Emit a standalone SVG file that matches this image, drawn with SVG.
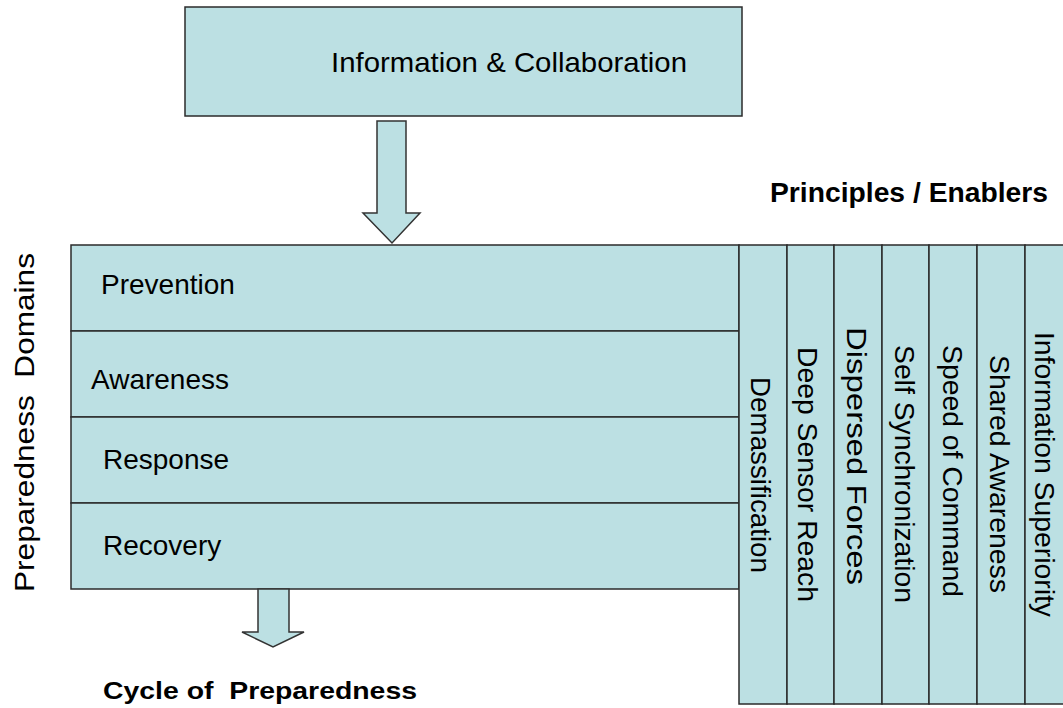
<svg xmlns="http://www.w3.org/2000/svg" width="1063" height="708" viewBox="0 0 1063 708">
<style>
.box{fill:#BCE0E3;stroke:#2b2b2b;stroke-width:1.5}
.col{fill:#BCE0E3;stroke:#2b2b2b;stroke-width:1.5}
.arrow{fill:#BCE0E3;stroke:#333;stroke-width:1.5;stroke-linejoin:miter}
.t{font-family:"Liberation Sans",Arial,sans-serif;font-size:28px;fill:#000}
.b{font-family:"Liberation Sans",Arial,sans-serif;font-weight:bold;fill:#000}
</style>
<rect width="1063" height="708" fill="#fff"/>
<g id="info-collab">
<rect class="box" x="185" y="7" width="557" height="109"/>
<text class="t" x="331" y="72" textLength="356" lengthAdjust="spacingAndGlyphs">Information &amp; Collaboration</text>
</g>
<g id="principles-label">
<text class="b" x="770" y="202" font-size="28" textLength="278" lengthAdjust="spacingAndGlyphs">Principles / Enablers</text>
</g>
<g id="domains-label">
<text class="t" xml:space="preserve" font-size="31" transform="translate(34,592) rotate(-90)" textLength="339" lengthAdjust="spacingAndGlyphs">Preparedness  Domains</text>
</g>
<g id="prevention">
<rect class="box" x="71" y="245" width="668" height="86"/>
<text class="t" x="101" y="294">Prevention</text>
</g>
<g id="awareness">
<rect class="box" x="71" y="331" width="668" height="86"/>
<text class="t" x="91" y="389">Awareness</text>
</g>
<g id="response">
<rect class="box" x="71" y="417" width="668" height="86"/>
<text class="t" x="103" y="469">Response</text>
</g>
<g id="recovery">
<rect class="box" x="71" y="503" width="668" height="86"/>
<text class="t" x="103" y="555">Recovery</text>
</g>
<g id="col-demassification">
<rect class="col" x="739" y="245" width="48" height="459"/>
<text class="t" transform="translate(751,377) rotate(90)" textLength="196" lengthAdjust="spacingAndGlyphs">Demassification</text>
</g>
<g id="col-deep-sensor-reach">
<rect class="col" x="787" y="245" width="47" height="459"/>
<text class="t" transform="translate(798,347) rotate(90)" textLength="255" lengthAdjust="spacingAndGlyphs">Deep Sensor Reach</text>
</g>
<g id="col-dispersed-forces">
<rect class="col" x="834" y="245" width="48" height="459"/>
<text class="t" transform="translate(847,327) rotate(90)" textLength="258" lengthAdjust="spacingAndGlyphs">Dispersed Forces</text>
</g>
<g id="col-self-synchronization">
<rect class="col" x="882" y="245" width="47" height="459"/>
<text class="t" transform="translate(895,345) rotate(90)" textLength="258" lengthAdjust="spacingAndGlyphs">Self Synchronization</text>
</g>
<g id="col-speed-of-command">
<rect class="col" x="929" y="245" width="48" height="459"/>
<text class="t" transform="translate(943,345) rotate(90)" textLength="252" lengthAdjust="spacingAndGlyphs">Speed of Command</text>
</g>
<g id="col-shared-awareness">
<rect class="col" x="977" y="245" width="48" height="459"/>
<text class="t" transform="translate(990,355) rotate(90)" textLength="238" lengthAdjust="spacingAndGlyphs">Shared Awareness</text>
</g>
<g id="col-information-superiority">
<rect class="col" x="1025" y="245" width="48" height="459"/>
<text class="t" transform="translate(1035,332) rotate(90)" textLength="285" lengthAdjust="spacingAndGlyphs">Information Superiority</text>
</g>
<g id="cycle-label">
<text class="b" xml:space="preserve" x="103" y="699" font-size="23" textLength="314" lengthAdjust="spacingAndGlyphs">Cycle of  Preparedness</text>
</g>
<g id="connectors">
<polygon class="arrow" points="377,121 406,121 406,213 420,213 392,243 363,213 377,213"/>
<polygon class="arrow" points="258,589 289,589 289,632 304,632 273,647 242,632 258,632"/>
</g>
</svg>
